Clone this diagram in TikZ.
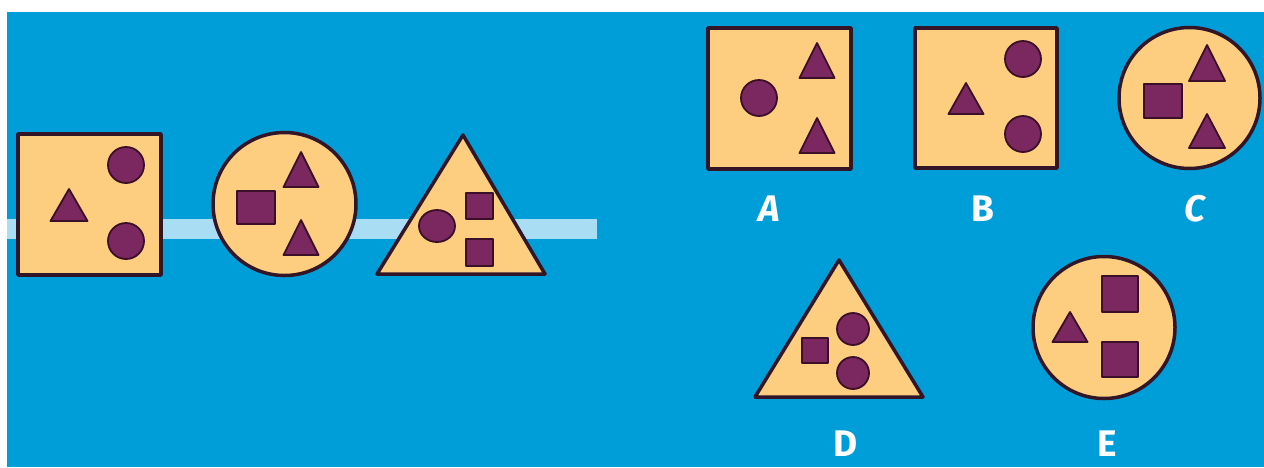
\documentclass[tikz,border=0pt]{standalone}
\usepackage{fontspec}
\setmainfont{Fira Sans}
\definecolor{bg}{RGB}{0,158,216}
\definecolor{stripe}{RGB}{168,221,243}
\definecolor{cream}{RGB}{253,205,128}
\definecolor{edge}{RGB}{50,22,40}
\definecolor{purp}{RGB}{122,40,95}
\definecolor{purpedge}{RGB}{60,15,40}
\tikzset{
  outer/.style={fill=cream,draw=edge,line width=3.5pt,line join=round},
  inner/.style={fill=purp,draw=purpedge,line width=1.8pt,line join=round},
  lab/.style={text=white,font=\fontsize{37}{40}\selectfont\bfseries,inner sep=0pt}
}
\newcommand{\itri}[4]{\draw[inner] (#1,#2) -- ++(-#3,#4) -- ++(2*#3,0) -- cycle;}
\newcommand{\idot}[3]{\draw[inner] (#1,#2) circle[radius=#3];}
\newcommand{\isq}[4]{\draw[inner] (#1,#2) rectangle (#3,#4);}
\begin{document}
\begin{tikzpicture}[x=1pt,y=-1pt]
\useasboundingbox (0,0) rectangle (1264,467);
\fill[white] (0,0) rectangle (1264,467);
\fill[bg] (7,12) rectangle (1264,467);
\fill[stripe] (7,219) rectangle (597,239);
% ---- sequence ----
% square 1
\draw[outer] (18,134) rectangle (161,275);
\idot{126}{165}{18}
\idot{126}{241}{18}
\itri{69}{189}{18.5}{32}
% circle 1
\draw[outer] (284.5,204) circle[radius=71.5];
\isq{237}{191}{275}{224}
\itri{301}{152}{17.5}{35}
\itri{301}{220}{17.5}{35}
% triangle 1
\draw[outer] (463,135) -- (377,274) -- (545,274) -- cycle;
\draw[inner] (437,226) ellipse[x radius=18,y radius=16];
\isq{466}{193}{493}{219}
\isq{466}{239}{493}{266}
% ---- options ----
% A
\draw[outer] (708,28) rectangle (851,169);
\idot{759}{98}{18}
\itri{817}{43}{17.5}{35}
\itri{817}{118}{17.5}{35}
\node[lab] (labA) at (769,209) {\itshape A};
% B
\draw[outer] (915,28) rectangle (1057,168);
\idot{1023}{59}{18}
\idot{1023}{134}{18}
\itri{966}{83}{17.5}{31}
\node[lab] (labB) at (983,209) {B};
% C
\draw[outer] (1189.5,98) circle[radius=70.5];
\isq{1144}{84}{1182}{118}
\itri{1207}{45}{18}{36}
\itri{1207}{114}{18}{34}
\node[lab] (labC) at (1195,209) {\itshape C};
% D
\draw[outer] (839,260) -- (755,397) -- (923,397) -- cycle;
\isq{802}{338}{828}{363}
\idot{853}{329}{16}
\idot{853}{373}{16}
\node[lab] (labD) at (846,444) {D};
% E
\draw[outer] (1104,327.5) circle[radius=71];
\isq{1102}{276}{1138}{312}
\isq{1102}{342}{1138}{377}
\itri{1070}{312}{17.5}{30}
\node[lab] (labE) at (1107,444) {E};
\end{tikzpicture}
\end{document}
